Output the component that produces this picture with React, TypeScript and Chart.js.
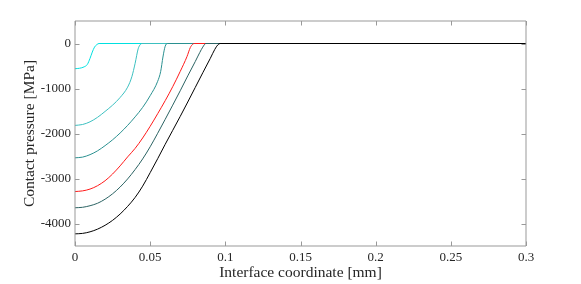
import React, { useEffect, useRef } from "react";
import { Chart, registerables } from "chart.js";

Chart.register(...registerables);

// Interface coordinate [mm] / contact pressure [MPa] for each curve
const s1X = [0, 0.003, 0.006, 0.0082, 0.01, 0.0115, 0.013, 0.0145, 0.016, 0.3];
const s1P = [-560, -550, -520, -465, -330, -190, -80, -25, 0, 0];

const s2X = [0, 0.005, 0.01, 0.015, 0.02, 0.025, 0.03, 0.035, 0.0378, 0.04, 0.042, 0.0435, 0.0445, 0.3];
const s2P = [-1820, -1800, -1740, -1640, -1510, -1370, -1200, -970, -740, -440, -120, -20, 0, 0];

const s3X = [0, 0.005, 0.01, 0.015, 0.02, 0.025, 0.03, 0.035, 0.04, 0.045, 0.05, 0.055, 0.057, 0.0585, 0.06, 0.0615, 0.3];
const s3P = [-2540, -2525, -2470, -2385, -2270, -2140, -1990, -1820, -1630, -1420, -1160, -840, -620, -300, -60, 0, 0];

const s4X = [0, 0.005, 0.01, 0.015, 0.02, 0.025, 0.03, 0.035, 0.04, 0.045, 0.05, 0.055, 0.06, 0.065, 0.07, 0.0745, 0.0767, 0.0785, 0.0795, 0.3];
const s4P = [-3290, -3275, -3235, -3160, -3050, -2900, -2720, -2520, -2330, -2100, -1840, -1560, -1270, -960, -620, -290, -90, -10, 0, 0];

const s5X = [0, 0.005, 0.01, 0.015, 0.02, 0.025, 0.03, 0.035, 0.04, 0.045, 0.05, 0.055, 0.06, 0.065, 0.07, 0.075, 0.08, 0.083, 0.085, 0.087, 0.3];
const s5P = [-3650, -3640, -3605, -3550, -3460, -3340, -3190, -3010, -2800, -2565, -2295, -1995, -1685, -1370, -1050, -720, -400, -200, -80, 0, 0];

const s6X = [0, 0.005, 0.01, 0.015, 0.02, 0.025, 0.03, 0.035, 0.04, 0.045, 0.05, 0.055, 0.06, 0.065, 0.07, 0.075, 0.08, 0.085, 0.09, 0.093, 0.095, 0.0965, 0.3];
const s6P = [-4230, -4220, -4185, -4125, -4040, -3930, -3790, -3620, -3420, -3170, -2870, -2560, -2240, -1930, -1620, -1300, -975, -650, -330, -130, -30, 0, 0];

const seriesColors = ["#00E0E0", "#3CC0C0", "#2A9090", "#FF1A1A", "#2A6262", "#000000"];

const xTicks = [0, 0.05, 0.1, 0.15, 0.2, 0.25, 0.3];
const yTicks = [-4000, -3000, -2000, -1000, 0];

const FONT = "'Liberation Serif', 'DejaVu Serif', serif";

const boxPlugin = {
  id: "boxTicks",
  afterDraw(chart: any) {
    const { ctx, chartArea } = chart;
    const { left, right, top, bottom } = chartArea;
    const xs = chart.scales.x;
    const ys = chart.scales.y;
    ctx.save();
    ctx.strokeStyle = "#999999";
    ctx.lineWidth = 1;
    ctx.beginPath();
    ctx.rect(left, top, right - left, bottom - top);
    const tl = 4.5;
    xTicks.forEach((v) => {
      const px = Math.round(xs.getPixelForValue(v)) + 0.5;
      ctx.moveTo(px, bottom);
      ctx.lineTo(px, bottom - tl);
      ctx.moveTo(px, top);
      ctx.lineTo(px, top + tl);
    });
    yTicks.forEach((v) => {
      const py = Math.round(ys.getPixelForValue(v)) + 0.5;
      ctx.moveTo(left, py);
      ctx.lineTo(left + tl, py);
      ctx.moveTo(right, py);
      ctx.lineTo(right - tl, py);
    });
    ctx.stroke();
    ctx.restore();
  },
};

export default function App() {
  const ref = useRef<HTMLCanvasElement | null>(null);
  useEffect(() => {
    if (!ref.current) return;
    const all = [
      [s1X, s1P],
      [s2X, s2P],
      [s3X, s3P],
      [s4X, s4P],
      [s5X, s5P],
      [s6X, s6P],
    ];
    const datasets = all.map(([xs, ps], i) => ({
      label: "s" + (i + 1),
      data: xs.map((x, j) => ({ x, y: ps[j] })),
      borderColor: seriesColors[i],
      backgroundColor: seriesColors[i],
      borderWidth: 1,
      pointRadius: 0,
      cubicInterpolationMode: "monotone" as const,
      fill: false,
      order: all.length - i,
    }));
    const chart = new Chart(ref.current, {
      type: "line",
      data: { datasets },
      plugins: [boxPlugin],
      options: {
        animation: false,
        responsive: true,
        maintainAspectRatio: false,
        layout: { padding: { top: 21, right: 55, left: 0, bottom: 0 } },
        plugins: { legend: { display: false }, tooltip: { enabled: false } },
        scales: {
          x: {
            type: "linear",
            min: 0,
            max: 0.3,
            grid: { display: false, drawTicks: false },
            border: { display: false },
            afterBuildTicks: (s: any) => {
              s.ticks = xTicks.map((v) => ({ value: v }));
            },
            afterFit: (s: any) => {
              s.height = 38;
            },
            ticks: {
              padding: 4,
              color: "#262626",
              font: { family: FONT, size: 13 },
              maxRotation: 0,
              autoSkip: false,
              callback: (v: any) => String(+Number(v).toFixed(2)),
            },
            title: {
              display: true,
              text: "Interface coordinate [mm]",
              color: "#262626",
              font: { family: FONT, size: 15.5 },
              padding: { top: 0, bottom: 2 },
            },
          },
          y: {
            type: "linear",
            min: -4500,
            max: 500,
            grid: { display: false, drawTicks: false },
            border: { display: false },
            afterBuildTicks: (s: any) => {
              s.ticks = yTicks.map((v) => ({ value: v }));
            },
            afterFit: (s: any) => {
              s.width = 75;
            },
            ticks: {
              padding: 4,
              color: "#262626",
              font: { family: FONT, size: 13 },
              autoSkip: false,
              callback: (v: any) => String(v),
            },
            title: {
              display: true,
              text: "Contact pressure [MPa]",
              color: "#262626",
              font: { family: FONT, size: 15.5 },
              padding: { top: 21, bottom: 0 },
            },
          },
        },
      },
    });
    return () => chart.destroy();
  }, []);
  return (
    <div style={{ position: "absolute", left: 0, top: 0, width: 581, height: 284 }}>
      <canvas ref={ref} />
    </div>
  );
}
